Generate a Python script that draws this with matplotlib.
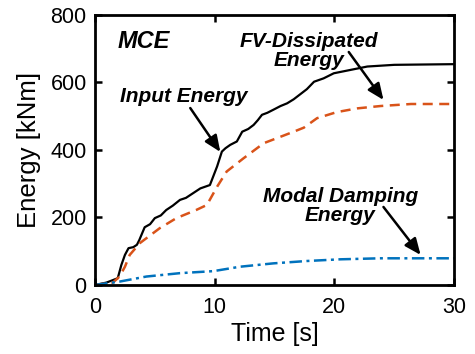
import numpy as np
from matplotlib import pyplot as plt

plt.rcParams['font.family'] = ['Liberation Sans', 'DejaVu Sans']

# Input energy (black solid)
t_in = [0, 0.95, 1.9, 2.2, 2.5, 2.8, 3.2, 3.5, 3.7, 4.15, 4.6, 5.0, 5.5, 5.95, 6.5, 7.1,
        7.6, 8.2, 8.8, 9.6, 10.2, 10.6, 10.9, 11.3, 11.85, 12.3, 12.8, 13.25, 13.6,
        13.95, 14.4, 14.9, 15.5, 16.05, 16.6, 17.15, 17.7, 18.3, 19.1, 19.95, 21.35,
        22.75, 25.0, 30]
e_in = [0, 7, 20, 59, 89, 109, 112, 119, 133, 171, 180, 198, 206, 222, 235, 252,
        258, 272, 286, 296, 351, 395, 405, 415, 425, 454, 462, 474, 488,
        504, 510, 519, 530, 538, 550, 565, 580, 602, 612, 627, 637,
        647, 652, 654]

# FV-dissipated energy (orange dashed)
t_fv = [0, 1.5, 2.05, 2.5, 2.9, 3.75, 5.4, 6.8, 8.45, 9.35, 10.2, 11.0, 12.4, 14.1,
        15.5, 16.6, 17.45, 18.55, 20.2, 21.9, 23.85, 26.4, 30]
e_fv = [0, 7, 25, 54, 89, 124, 168, 198, 222, 237, 291, 336, 375, 420,
        439, 454, 466, 494, 512, 523, 530, 536, 536]

# Modal damping energy (blue dash-dot)
t_md = [0, 2.05, 4.3, 7.1, 9.9, 12.1, 14.9, 17.7, 20.5, 23.85, 30]
e_md = [0, 10, 25, 35, 41, 54, 64, 71, 76, 79, 79]

fig = plt.figure(figsize=(4.75, 3.54), dpi=100)
ax = fig.add_axes([0.2, 0.195, 0.756, 0.763])

ax.plot(t_in, e_in, color='k', lw=1.6)
ax.plot(t_fv, e_fv, color='#D95319', lw=1.8, linestyle=(0, (4, 2.6)))
ax.plot(t_md, e_md, color='#0072BD', lw=1.8, linestyle=(0, (5, 1.8, 1.2, 1.8)))

ax.set_xlim(0, 30)
ax.set_ylim(0, 800)
ax.set_xticks([0, 10, 20, 30])
ax.set_yticks([0, 200, 400, 600, 800])
ax.tick_params(direction='in', top=True, right=True, length=5, width=1.8, labelsize=15.5)
ax.tick_params(axis='x', pad=8.5)
ax.tick_params(axis='y', pad=6)
for s in ax.spines.values():
    s.set_linewidth(2)
ax.set_xlabel("Time [s]", fontsize=18, labelpad=3)
ax.set_ylabel("Energy [kNm]", fontsize=18.5, labelpad=7)

txt = dict(fontsize=15, fontweight='bold', fontstyle='italic', ha='center', va='center')
arr = dict(arrowstyle='-|>,head_length=0.7,head_width=0.3', color='k', lw=1.8,
           mutation_scale=14, shrinkA=0, shrinkB=0)

ax.text(1.9, 720, "MCE", fontsize=17, fontweight='bold', fontstyle='italic', ha='left', va='center')
ax.text(7.45, 557, "Input Energy", **txt)
ax.annotate("", xy=(10.47, 394), xytext=(7.96, 524), arrowprops=arr)
ax.text(17.9, 693, "FV-Dissipated\nEnergy", linespacing=1.05, **txt)
ax.annotate("", xy=(24.1, 548), xytext=(21.2, 690), arrowprops=arr)
ax.text(20.5, 234, "Modal Damping\nEnergy", linespacing=1.05, **txt)
ax.annotate("", xy=(27.2, 89), xytext=(24.1, 231), arrowprops=arr)

fig.savefig("out.png", dpi=100)
